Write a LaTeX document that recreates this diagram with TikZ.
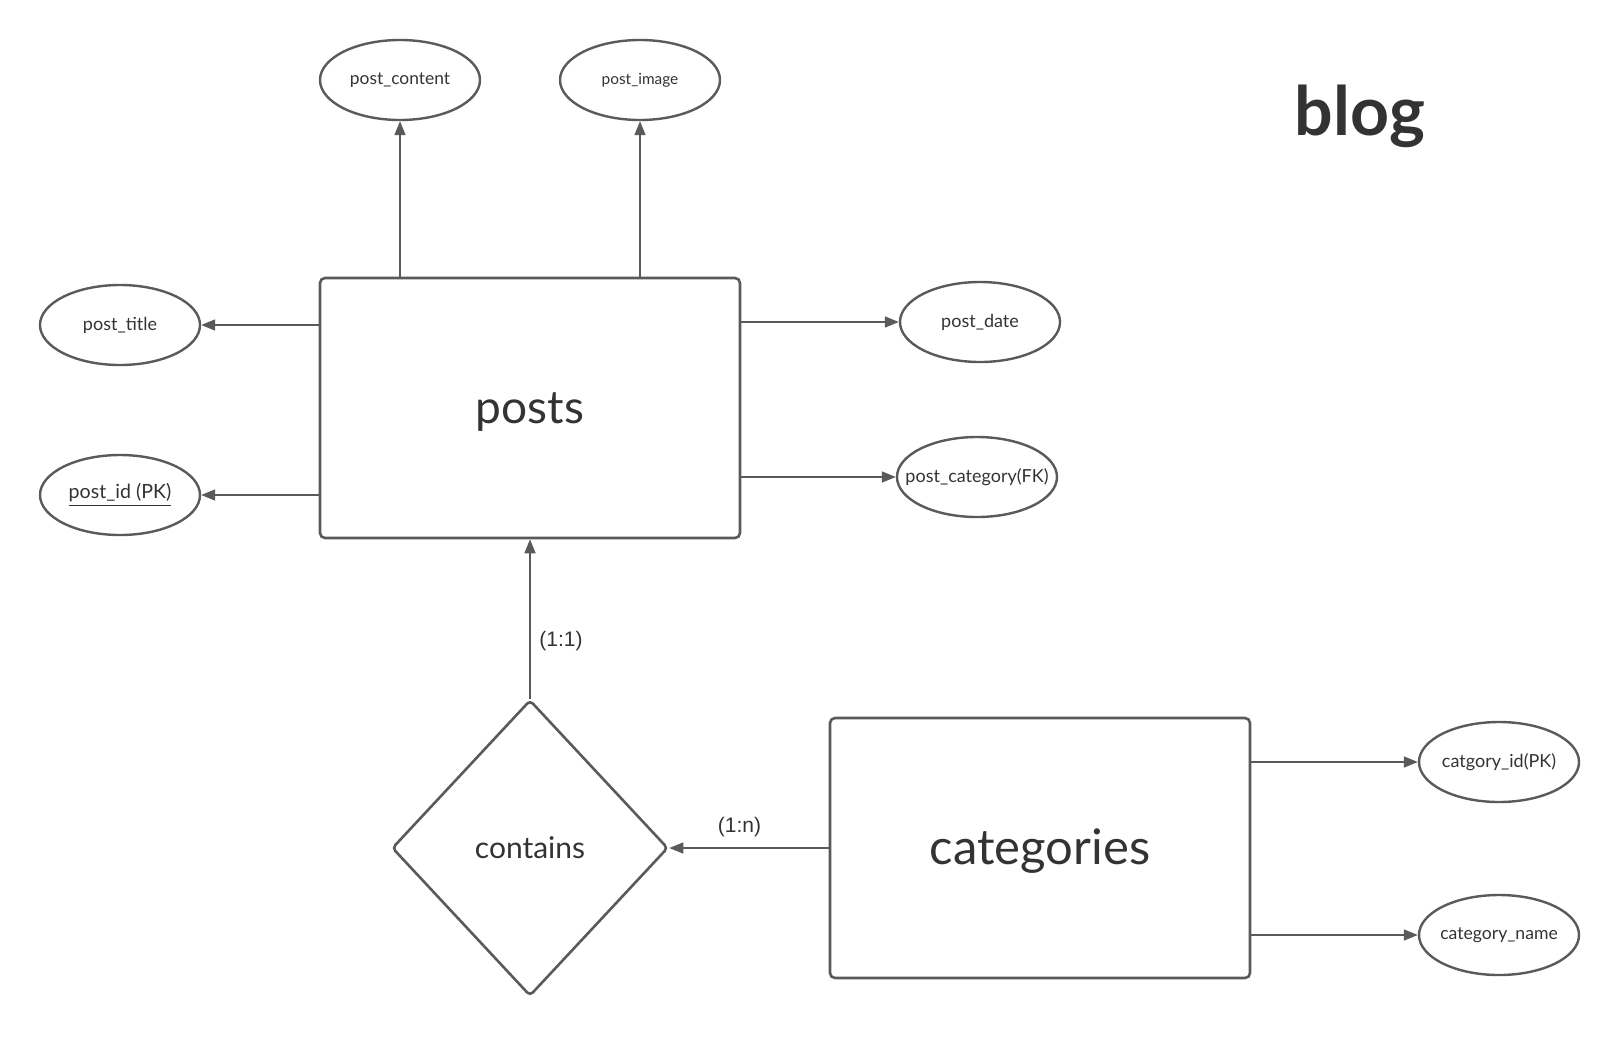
\documentclass[tikz,border=0pt]{standalone}
\usepackage{fontspec}
\setmainfont{Lato}
\newfontfamily\labelfont{Liberation Sans}
\usepackage{xcolor}
\usetikzlibrary{positioning, shapes.geometric, arrows.meta}
\definecolor{linegray}{HTML}{5A5A5A}
\definecolor{textgray}{HTML}{333333}

\begin{document}
\begin{tikzpicture}[
    x=0.5pt, y=-0.5pt,
    entity/.style={rectangle, draw=linegray, line width=1.3pt, rounded corners=2.5pt, minimum width=210pt, minimum height=130pt, text=textgray, font=\fontsize{23}{27}\selectfont},
    attribute/.style={ellipse, draw=linegray, line width=1.2pt, minimum width=80pt, minimum height=40pt, inner xsep=-9pt, inner ysep=0pt, text=textgray, font=\fontsize{9}{11}\selectfont},
    relation/.style={diamond, draw=linegray, line width=1.3pt, rounded corners=2pt, minimum width=138pt, minimum height=148pt, inner sep=0pt, text=textgray, font=\fontsize{15}{18}\selectfont},
    link/.style={draw=linegray, line width=0.8pt},
    card/.style={font=\labelfont\fontsize{10.5}{12}\selectfont, text=textgray},
    >={Triangle[length=7pt, width=5.5pt]}
]
\useasboundingbox (0,0) rectangle (1620,1039);

% entities
\node[entity] (posts) at (530,408) {\raisebox{-7.5pt}[0pt][0pt]{posts}};
\node[entity, font=\fontsize{24.5}{29}\selectfont] (categories) at (1040,848) {\raisebox{-8pt}[0pt][0pt]{categories}};

% relation
\node[relation] (contains) at (530,848) {contains};

% attributes of posts
\node[attribute, font=\fontsize{8.7}{10}\selectfont] (content) at (400,80) {post\_content};
\node[attribute, font=\fontsize{7.7}{9}\selectfont] (image) at (640,80) {post\_image};
\node[attribute] (title) at (120,325) {post\_title};
\node[attribute, font=\fontsize{9.8}{11}\selectfont] (postid) at (120,495) {\underline{post\_id (PK)}};
\node[attribute] (date) at (980,322) {post\_date};
\node[attribute] (postcat) at (977,477) {post\_category(FK)};

% attributes of categories
\node[attribute] (catid) at (1499,762) {catgory\_id(PK)};
\node[attribute, font=\fontsize{8.8}{10}\selectfont] (catname) at (1499,935) {category\_name};

% title
\node[text=textgray, font=\bfseries\fontsize{34}{40}\selectfont] (blog) at (1360,116) {blog};

% connectors
\draw[link, ->] (posts.north -| content) -- (content.south);
\draw[link, ->] (posts.north -| image) -- (image.south);
\draw[link, ->] (posts.west |- title) -- (title.east);
\draw[link, ->] (posts.west |- postid) -- (postid.east);
\draw[link, ->] (posts.east |- date) -- (date.west);
\draw[link, ->] (posts.east |- postcat) -- (postcat.west);
\draw[link, ->] (categories.east |- catid) -- (catid.west);
\draw[link, ->] (categories.east |- catname) -- (catname.west);

\draw[link, ->] (contains.north) -- node[card, pos=0.36, right, xshift=1pt] {(1:1)} (posts.south);
\draw[link, ->] (categories.west) -- node[card, pos=0.56, above, yshift=2pt] {(1:n)} (contains.east);

\end{tikzpicture}
\end{document}
